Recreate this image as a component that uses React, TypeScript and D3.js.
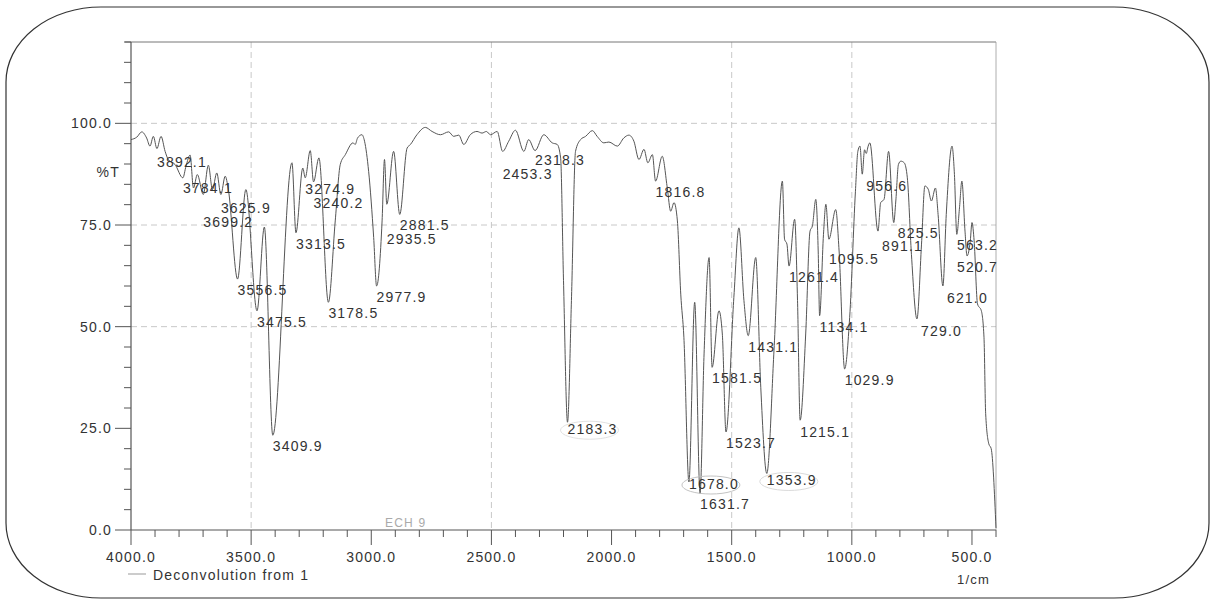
import React from "react";
import * as d3 from "d3";

// ---- data ----
const WAVENUMBERS = [
  4000, 3976, 3955, 3935, 3921, 3907, 3892.1, 3875, 3858, 3845, 3817, 3784.1, 3771, 3754, 3740, 3724,
  3699.2, 3678, 3661, 3643, 3625.9, 3608, 3595, 3556.5, 3522, 3475.5, 3445, 3409.9, 3330, 3313.5, 3285,
  3274.9, 3254, 3240.2, 3218, 3178.5, 3150, 3129, 3108, 3076, 3067, 3057, 3039, 3028, 3011, 2990, 2977.9,
  2955, 2945, 2935.5, 2907, 2881.5, 2851, 2837, 2810, 2775, 2747, 2712, 2678, 2657, 2636, 2615, 2588, 2560,
  2539, 2521, 2504, 2476, 2453.3, 2428, 2400, 2365, 2345, 2318.3, 2282, 2247, 2226, 2212, 2200, 2183.3,
  2167, 2150, 2129, 2108, 2080, 2060, 2032, 2011, 1976, 1949, 1928, 1907, 1886, 1865, 1849, 1830, 1816.8,
  1789, 1768, 1754, 1740, 1726, 1712, 1699, 1678.0, 1654, 1631.7, 1615, 1594, 1581.5, 1553, 1539, 1523.7,
  1491, 1470, 1449, 1431.1, 1400, 1379, 1353.9, 1324, 1289, 1280, 1270, 1261.4, 1238, 1226, 1215.1, 1192,
  1174, 1164, 1150, 1140, 1134.1, 1118, 1108, 1095.5, 1067, 1053, 1029.9, 1009, 985, 975, 966, 956.6, 947,
  940, 932, 925, 891.1, 880, 866, 847, 825.5, 817, 806, 796, 782, 769, 752, 729.0, 710, 696, 682, 669, 652,
  641, 621.0, 607, 583, 573, 563.2, 552, 542, 529, 520.7, 507, 500, 491, 477, 461, 450, 443, 430, 420, 400,
];
const TRANSMITTANCE = [
  96.0, 96.6, 97.9, 96.4, 94.4, 96.8, 93.8, 96.8, 93.1, 91.1, 89.9, 86.6, 89.5, 92.2, 84.1, 87.4,
  82.5, 89.7, 83.7, 87.8, 82.5, 87.0, 83.8, 61.7, 83.7, 53.9, 74.5, 23.3, 90.3, 73.1, 89.0,
  86.6, 93.3, 85.6, 91.5, 56.0, 76.0, 89.9, 92.3, 95.2, 94.8, 96.4, 97.2, 95.6, 88.2, 71.9, 60.0,
  76.0, 91.1, 80.1, 93.1, 77.6, 93.9, 94.8, 97.2, 99.0, 98.0, 97.2, 97.9, 96.8, 97.1, 94.8, 97.2, 98.0,
  97.6, 98.0, 97.2, 98.0, 93.1, 95.6, 98.3, 93.1, 96.0, 93.3, 97.2, 95.2, 94.8, 91.5, 61.3, 26.5,
  56.4, 93.1, 96.0, 96.8, 98.2, 96.8, 95.2, 95.4, 94.4, 96.4, 97.1, 95.6, 91.1, 93.6, 90.3, 92.3, 85.8,
  91.9, 84.1, 78.4, 80.5, 76.0, 58.0, 47.4, 11.8, 56.0, 9.0, 43.3, 67.0, 40.0, 53.9, 48.2, 24.1,
  57.2, 74.3, 56.4, 47.8, 67.0, 35.1, 13.9, 44.1, 85.8, 71.5, 70.3, 64.9, 76.4, 56.4, 27.0, 48.2,
  73.5, 74.8, 81.3, 68.6, 52.7, 72.7, 80.1, 71.5, 78.8, 68.6, 39.6, 52.3, 83.3, 93.1, 94.4, 87.5, 93.5,
  92.6, 94.4, 95.2, 73.5, 80.5, 81.3, 93.1, 75.6, 80.9, 89.9, 90.7, 90.3, 86.6, 67.8, 51.9, 70.3, 84.6, 83.8, 80.9, 84.1,
  77.6, 60.0, 77.6, 94.4, 87.4, 72.7, 79.2, 85.8, 73.5, 67.4, 71.1, 75.6, 71.1, 55.6, 53.9, 47.4, 28.6, 21.2, 20.0, 0.5,
];
const PEAKS = [
  3892.1, 3784.1, 3699.2, 3625.9, 3556.5, 3475.5, 3409.9, 3313.5, 3274.9, 3240.2, 3178.5, 2977.9,
  2935.5, 2881.5, 2453.3, 2318.3, 2183.3, 1816.8, 1678.0, 1631.7, 1581.5, 1523.7, 1431.1, 1353.9,
  1261.4, 1215.1, 1134.1, 1095.5, 1029.9, 956.6, 891.1, 825.5, 729.0, 621.0, 563.2, 520.7,
];
const CIRCLED = [2183.3, 1678.0, 1353.9];
const Y_TICKS = [0, 25, 50, 75, 100];
const X_TICKS = [4000, 3500, 3000, 2500, 2000, 1500, 1000, 500];
const X_GRID = [3500, 2500, 1500, 1000];
const Y_GRID = [50, 75, 100];
const Y_LABEL = "%T";
const X_UNIT = "1/cm";
const LEGEND = "Deconvolution from 1";
const SAMPLE = "ECH 9";

// ---- layout (not data) ----
const W = 1212, H = 606;
const L = 131, R = 996, T = 42, B = 530;
const LABEL_DY: Record<string, number> = {
  "3892.1": 13, "3784.1": 10, "3699.2": 27, "3625.9": 13, "3240.2": 21, "2935.5": 35,
  "2453.3": 23, "2318.3": 9, "2183.3": 7, "1678.0": 2, "1353.9": 7, "1095.5": 20,
  "891.1": 15, "1215.1": 12, "956.6": 12, "729.0": 12, "621.0": 12, "825.5": 10,
};
const CIRCLE_STROKE: Record<string, string> = { "2183.3": "#dedede", "1678.0": "#bcbcbc", "1353.9": "#d6d6d6" };
const FONT = "'Liberation Sans', Arial, sans-serif";
const LS = 1.2;
const INK = "#333";

export default function App() {
  const x = d3.scaleLinear().domain([4000, 400]).range([L, R]);
  const y = d3.scaleLinear().domain([0, 120]).range([B, T]);
  const pts = WAVENUMBERS.map((w, i) => [w, TRANSMITTANCE[i]] as [number, number]);
  const line = d3
    .line<[number, number]>()
    .x((d) => x(d[0]))
    .y((d) => y(d[1]))
    .curve(d3.curveMonotoneX);
  const fmt = d3.format(".1f");
  const minorY = d3.range(0, 121, 5);
  const minorX = d3.range(4000, 399, -100);
  const tAt = (w: number) => {
    const i = WAVENUMBERS.findIndex((v) => Math.abs(v - w) < 0.01);
    return TRANSMITTANCE[i];
  };
  const labelPos = (p: number) => {
    const key = fmt(p);
    const px = Math.min(x(p) + (p < 1000 ? 4 : 0), 957);
    const cy = y(tAt(p)) + (LABEL_DY[key] ?? 11);
    return { key, px, cy };
  };

  return (
    <svg
      width={W}
      height={H}
      style={{ position: "absolute", left: 0, top: 0, background: "#fff" }}
      fontFamily={FONT}
      letterSpacing={LS}
    >
      <rect x={0} y={0} width={W} height={H} fill="#fff" />
      <rect x={6} y={7} width={1203} height={591} rx={95} ry={75} fill="none" stroke="#333" strokeWidth={1.2} />

      {/* grid */}
      {Y_GRID.map((v) => (
        <line key={"gy" + v} x1={L} x2={R} y1={y(v)} y2={y(v)} stroke="#c8c8c8" strokeDasharray="6,4" />
      ))}
      {X_GRID.map((v) => (
        <line key={"gx" + v} x1={x(v)} x2={x(v)} y1={T} y2={B} stroke="#c8c8c8" strokeDasharray="6,4" />
      ))}

      {/* frame */}
      <line x1={L - 6} x2={R} y1={T} y2={T} stroke="#777" />
      <line x1={L} x2={L} y1={T} y2={B} stroke="#555" strokeWidth={1.2} />
      <line x1={L} x2={R} y1={B} y2={B} stroke="#555" strokeWidth={1.2} />
      <line x1={R} x2={R} y1={T} y2={B} stroke="#999" strokeWidth={0.8} />

      {/* y ticks */}
      {minorY.map((v) => (
        <line key={"ty" + v} x1={L - (v % 25 === 0 ? 16 : 7)} x2={L} y1={y(v)} y2={y(v)} stroke="#555" />
      ))}
      {Y_TICKS.map((v) => (
        <text key={"ly" + v} x={112} y={y(v) + 5} textAnchor="end" fontSize={14} fill={INK}>
          {fmt(v)}
        </text>
      ))}
      <text x={120} y={y(88) + 5} textAnchor="end" fontSize={14} fill={INK}>
        {Y_LABEL}
      </text>

      {/* x ticks */}
      {minorX.map((v) => (
        <line key={"tx" + v} x1={x(v)} x2={x(v)} y1={B} y2={B + (v % 500 === 0 ? 15 : 7)} stroke="#555" />
      ))}
      {X_TICKS.map((v) => (
        <text key={"lx" + v} x={x(v)} y={562} textAnchor="middle" fontSize={14} fill={INK}>
          {fmt(v)}
        </text>
      ))}
      <text x={990} y={584} textAnchor="end" fontSize={13} fill={INK}>
        {X_UNIT}
      </text>

      {/* legend */}
      <line x1={128} x2={146} y1={574} y2={574} stroke="#999" />
      <text x={153} y={580} fontSize={14} fill={INK}>
        {LEGEND}
      </text>
      <text x={385} y={527} fontSize={12} fill="#aaa">
        {SAMPLE}
      </text>

      {/* spectrum */}
      <path d={line(pts) || ""} fill="none" stroke="#555" strokeWidth={1} />

      {/* hand-drawn circles on the scan */}
      {CIRCLED.map((p) => {
        const { key, px, cy } = labelPos(p);
        return (
          <ellipse key={"c" + key} cx={px + 22} cy={cy + 1} rx={29} ry={9} fill="none" stroke={CIRCLE_STROKE[key]} strokeWidth={0.9} />
        );
      })}

      {/* peak labels */}
      {PEAKS.map((p) => {
        const { key, px, cy } = labelPos(p);
        return (
          <text key={"p" + key} x={px} y={cy + 5} fontSize={14} fill={INK}>
            {key}
          </text>
        );
      })}
    </svg>
  );
}
